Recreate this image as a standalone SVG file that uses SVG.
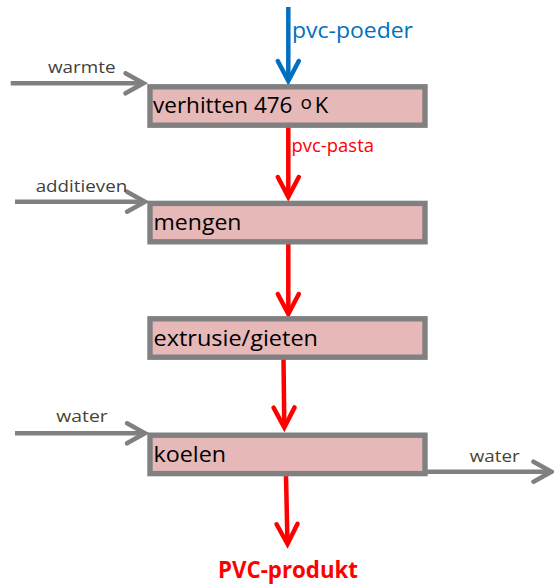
<svg xmlns="http://www.w3.org/2000/svg" width="554" height="585" viewBox="0 0 554 585">
  <style>
    .box { fill: #E6B8B7; stroke: #808080; stroke-width: 5.4; }
    .boxtext { font-family: "Open Sans", "Noto Sans", sans-serif; font-size: 22px; fill: #000000; }
    .small { font-family: "Open Sans", "Noto Sans", sans-serif; font-size: 17px; }
    .gray { fill: none; stroke: #808080; stroke-width: 4.5; }
    .red { fill: none; stroke: #FF0000; stroke-width: 4.5; }
    .blue { fill: none; stroke: #0070C0; stroke-width: 4.5; }
  </style>
  <defs>
    <marker id="ah-gray" markerUnits="userSpaceOnUse" viewBox="-26 -14 30 28" refX="0" refY="0" markerWidth="30" markerHeight="28" orient="auto" overflow="visible">
      <path d="M-18,-10 L0,0 L-18,10" fill="none" stroke="#808080" stroke-width="4.5" stroke-linecap="round"/>
    </marker>
    <marker id="ah-red" markerUnits="userSpaceOnUse" viewBox="-26 -14 30 28" refX="0" refY="0" markerWidth="30" markerHeight="28" orient="auto" overflow="visible">
      <path d="M-20,-10.5 L0,0 L-20,10.5" fill="none" stroke="#FF0000" stroke-width="4.5" stroke-linecap="round"/>
    </marker>
    <marker id="ah-blue" markerUnits="userSpaceOnUse" viewBox="-26 -14 30 28" refX="0" refY="0" markerWidth="30" markerHeight="28" orient="auto" overflow="visible">
      <path d="M-20,-10.5 L0,0 L-20,10.5" fill="none" stroke="#0070C0" stroke-width="4.5" stroke-linecap="round"/>
    </marker>
  </defs>

  <g id="connectors">
    <line class="blue" x1="288.3" y1="7" x2="288.3" y2="81" marker-end="url(#ah-blue)"/>
    <line class="red" x1="288.3" y1="127" x2="288.3" y2="197" marker-end="url(#ah-red)"/>
    <line class="red" x1="288.3" y1="241" x2="288.3" y2="314" marker-end="url(#ah-red)"/>
    <line class="red" x1="283.5" y1="357" x2="284.3" y2="427.5" marker-end="url(#ah-red)"/>
    <line class="red" x1="286" y1="476" x2="287.5" y2="544" marker-end="url(#ah-red)"/>
    <line class="gray" x1="10.7" y1="83.3" x2="143.5" y2="83.3" marker-end="url(#ah-gray)"/>
    <line class="gray" x1="15" y1="201.7" x2="145" y2="201.7" marker-end="url(#ah-gray)"/>
    <line class="gray" x1="15" y1="433.3" x2="145" y2="433.3" marker-end="url(#ah-gray)"/>
    <line class="gray" x1="427" y1="471.7" x2="551.5" y2="471.7" marker-end="url(#ah-gray)"/>
    <text x="292" y="38" font-family="'Open Sans', 'Noto Sans', sans-serif" font-size="22.5" fill="#0070C0" textLength="121" lengthAdjust="spacingAndGlyphs">pvc-poeder</text>
    <text x="291.5" y="151.7" font-family="'Open Sans', 'Noto Sans', sans-serif" font-size="18" fill="#FF0000" textLength="82.5" lengthAdjust="spacingAndGlyphs">pvc-pasta</text>
    <text class="small" x="48" y="73.3" fill="#404040" textLength="67.5" lengthAdjust="spacingAndGlyphs">warmte</text>
    <text class="small" x="35.7" y="191.7" fill="#404040" textLength="91.5" lengthAdjust="spacingAndGlyphs">additieven</text>
    <text class="small" x="56.3" y="422.3" fill="#494429" textLength="51.5" lengthAdjust="spacingAndGlyphs">water</text>
    <text class="small" x="469.7" y="461.7" fill="#494429" textLength="50" lengthAdjust="spacingAndGlyphs">water</text>
    <text x="218" y="578.3" font-family="'Open Sans', 'Noto Sans', sans-serif" font-size="22.5" font-weight="bold" fill="#FF0000" textLength="140" lengthAdjust="spacingAndGlyphs">PVC-produkt</text>
  </g>

  <g id="node-verhitten">
    <rect class="box" x="150" y="86.8" width="275" height="38.4"/>
    <text class="boxtext" y="113.3"><tspan x="153" textLength="139.5" lengthAdjust="spacingAndGlyphs">verhitten 476</tspan><tspan x="295.5" y="109" font-size="19"> o</tspan><tspan x="314.8" y="113.3">K</tspan></text>
  </g>

  <g id="node-mengen">
    <rect class="box" x="150" y="203.4" width="275" height="38.4"/>
    <text class="boxtext" x="153.5" y="230" textLength="88" lengthAdjust="spacingAndGlyphs">mengen</text>
  </g>

  <g id="node-extrusie">
    <rect class="box" x="150" y="318.8" width="275" height="38.4"/>
    <text class="boxtext" x="153.5" y="346" textLength="164.5" lengthAdjust="spacingAndGlyphs">extrusie/gieten</text>
  </g>

  <g id="node-koelen">
    <rect class="box" x="150" y="435.2" width="275" height="38.4"/>
    <text class="boxtext" x="153.5" y="461.5" textLength="72.5" lengthAdjust="spacingAndGlyphs">koelen</text>
  </g>
</svg>
